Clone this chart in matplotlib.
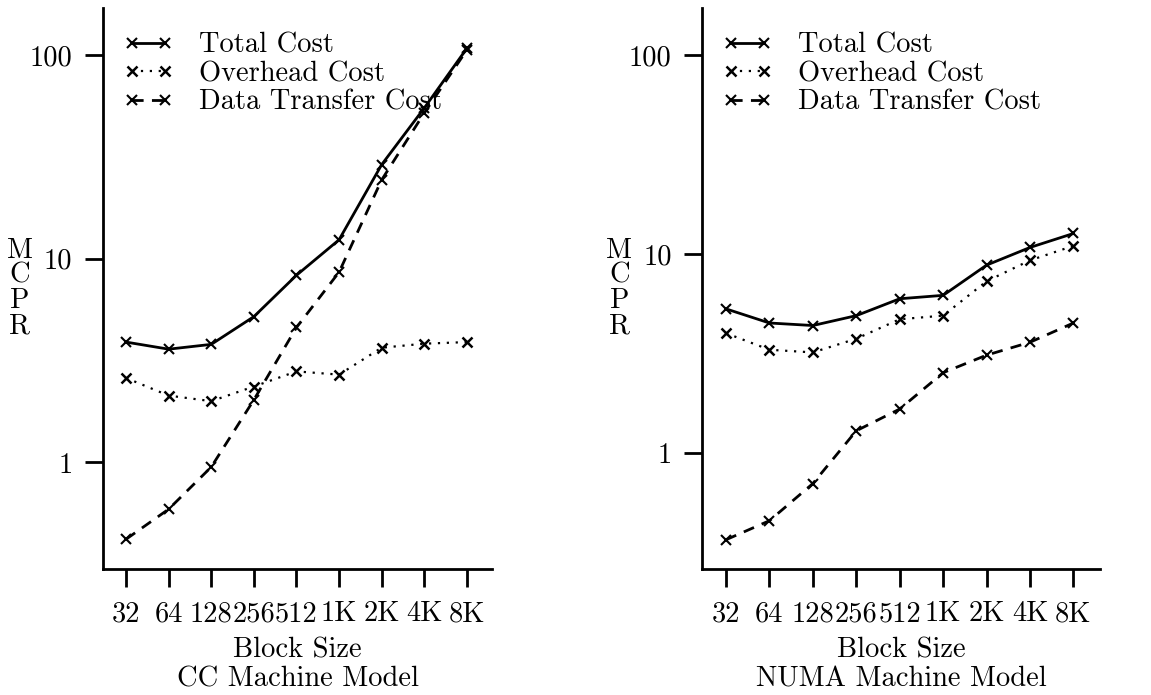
import matplotlib
matplotlib.use('Agg')
import matplotlib.pyplot as plt

plt.rcParams['font.family'] = ['cmr10', 'DejaVu Serif']
plt.rcParams['axes.formatter.use_mathtext'] = True

block_sizes = ['32', '64', '128', '256', '512', '1K', '2K', '4K', '8K']

# CC machine model
cc_total = [3.9, 3.6, 3.8, 5.2, 8.3, 12.4, 29, 55, 108]
cc_overhead = [2.6, 2.13, 2.0, 2.36, 2.8, 2.7, 3.66, 3.83, 3.9]
cc_transfer = [0.42, 0.59, 0.95, 2.03, 4.6, 8.6, 24.4, 52, 106]

# NUMA machine model
numa_total = [5.3, 4.5, 4.37, 4.9, 5.96, 6.2, 8.8, 10.8, 12.7]
numa_overhead = [4.0, 3.3, 3.2, 3.75, 4.7, 4.9, 7.3, 9.3, 11.0]
numa_transfer = [0.365, 0.455, 0.70, 1.29, 1.66, 2.53, 3.1, 3.6, 4.5]

fs = 20.5

fig = plt.figure(figsize=(11.51, 6.95), dpi=100)

panels = [
    ([0.0895, 0.1813, 0.338, 0.807], cc_total, cc_overhead, cc_transfer,
     'CC Machine Model', (0.30, 170), (-0.54, 8.59), 0.017),
    ([0.61, 0.1813, 0.346, 0.807], numa_total, numa_overhead, numa_transfer,
     'NUMA Machine Model', (0.26, 173), (-0.55, 8.62), 0.538),
]

for rect, total, overhead, transfer, title, ylim, xlim, ylab_x in panels:
    ax = fig.add_axes(rect)
    x = list(range(len(block_sizes)))
    ax.plot(x, total, color='black', linestyle='-', linewidth=2,
            marker='x', markersize=6.5, markeredgewidth=1.5, label='Total Cost')
    ax.plot(x, overhead, color='black', linestyle=(0, (1, 3)), linewidth=1.6,
            marker='x', markersize=6.5, markeredgewidth=1.8, label='Overhead Cost')
    ax.plot(x, transfer, color='black', linestyle=(0, (4, 3)), linewidth=2,
            marker='x', markersize=6.5, markeredgewidth=1.5, label='Data Transfer Cost')
    ax.set_yscale('log')
    ax.set_ylim(*ylim)
    ax.set_xlim(*xlim)
    ax.set_yticks([1, 10, 100])
    ax.set_yticklabels(['1', '10', '100'])
    ax.minorticks_off()
    ax.set_xticks(x)
    ax.set_xticklabels(block_sizes)
    ax.spines['top'].set_visible(False)
    ax.spines['right'].set_visible(False)
    ax.spines['left'].set_linewidth(2)
    ax.spines['bottom'].set_linewidth(2)
    ax.tick_params(direction='out', length=13, width=2, labelsize=fs, pad=10)
    ax.tick_params(axis='y', pad=9)
    ax.set_xlabel('Block Size\n' + title, fontsize=fs, linespacing=1.15, labelpad=7)
    fig.text(ylab_x, 0.585, 'M\nC\nP\nR', fontsize=fs, ha='center', va='center',
             linespacing=0.95)
    ax.legend(loc='upper left', frameon=False, fontsize=fs, numpoints=2,
              handlelength=1.75, handletextpad=0.9, labelspacing=0.08,
              borderaxespad=0.0, bbox_to_anchor=(0.023, 0.977))

fig.savefig('out.png', dpi=100)
